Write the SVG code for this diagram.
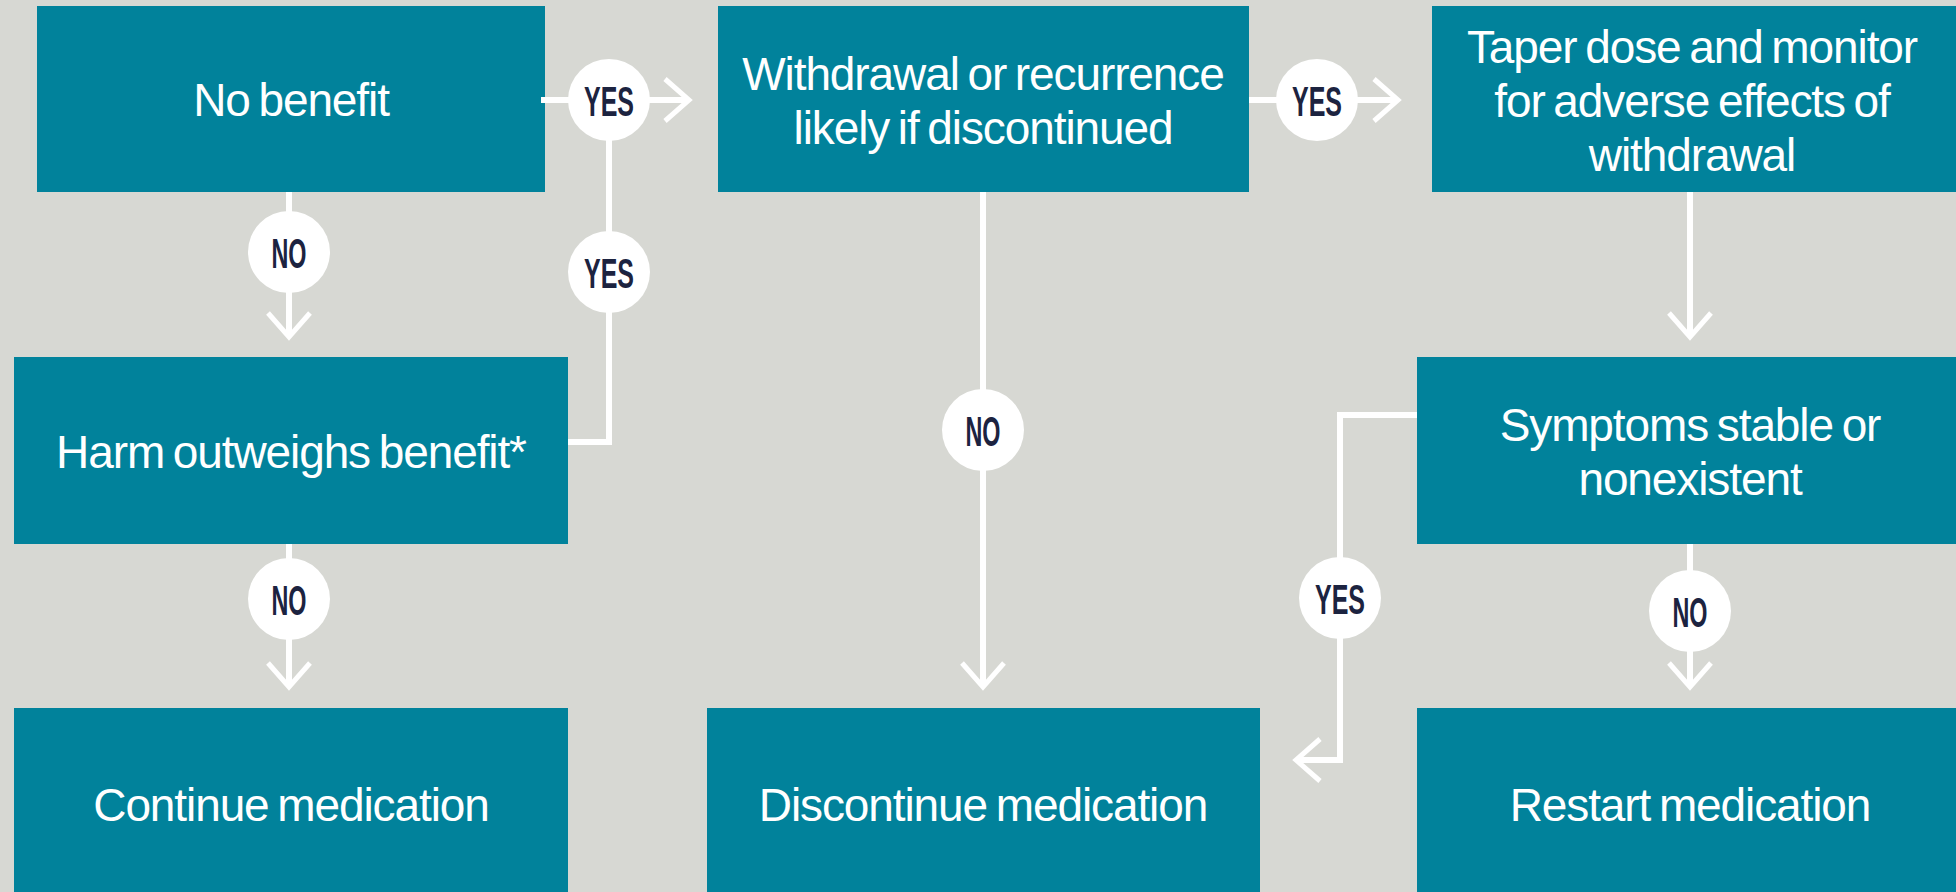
<svg xmlns="http://www.w3.org/2000/svg" width="1956" height="892" viewBox="0 0 1956 892">
<style>
.box{fill:#01829b}
.bt{font-family:"Liberation Sans",Arial,sans-serif;font-size:46px;fill:#ffffff;text-anchor:middle;letter-spacing:-1.1px;word-spacing:-3px}
.ln{fill:none;stroke:#ffffff;stroke-width:6}
.lab{fill:#ffffff}
.lt{font-family:"Liberation Sans",Arial,sans-serif;font-size:43px;font-weight:bold;fill:#1c2340;text-anchor:middle}
</style>
<defs>
<marker id="arr" markerUnits="userSpaceOnUse" viewBox="-32 -28 40 56" refX="0" refY="0" markerWidth="40" markerHeight="56" orient="auto" overflow="visible">
<path d="M-24,-21 L0,0 L-24,21" fill="none" stroke="#ffffff" stroke-width="5"/>
</marker>
</defs>
<rect x="0" y="0" width="1956" height="892" fill="#d7d8d3"/>
<g id="n1"><rect class="box" x="37" y="6" width="508" height="186"/><text class="bt" x="291" y="116">No benefit</text></g>
<g id="n2"><rect class="box" x="718" y="6" width="531" height="186"/><text class="bt" x="983" y="90">Withdrawal or recurrence</text><text class="bt" x="983" y="144">likely if discontinued</text></g>
<g id="n3"><rect class="box" x="1432" y="6" width="524" height="186"/><text class="bt" x="1692" y="63">Taper dose and monitor</text><text class="bt" x="1692" y="117">for adverse effects of</text><text class="bt" x="1692" y="171">withdrawal</text></g>
<g id="n4"><rect class="box" x="14" y="357" width="554" height="187"/><text class="bt" x="291" y="468">Harm outweighs benefit*</text></g>
<g id="n5"><rect class="box" x="1417" y="357" width="539" height="187"/><text class="bt" x="1690" y="441">Symptoms stable or</text><text class="bt" x="1690" y="495">nonexistent</text></g>
<g id="n6"><rect class="box" x="14" y="708" width="554" height="184"/><text class="bt" x="291" y="821">Continue medication</text></g>
<g id="n7"><rect class="box" x="707" y="708" width="553" height="184"/><text class="bt" x="983" y="821">Discontinue medication</text></g>
<g id="n8"><rect class="box" x="1417" y="708" width="539" height="184"/><text class="bt" x="1690" y="821">Restart medication</text></g>
<g id="connectors">
<path class="ln" d="M541,100 H689" marker-end="url(#arr)"/>
<path class="ln" d="M568,442 H609 V100"/>
<path class="ln" d="M1249,100 H1398" marker-end="url(#arr)"/>
<path class="ln" d="M289,192 V337" marker-end="url(#arr)"/>
<path class="ln" d="M289,544 V687" marker-end="url(#arr)"/>
<path class="ln" d="M983,192 V687" marker-end="url(#arr)"/>
<path class="ln" d="M1690,192 V337" marker-end="url(#arr)"/>
<path class="ln" d="M1690,544 V687" marker-end="url(#arr)"/>
<path class="ln" d="M1417,415 H1340 V760 H1296" marker-end="url(#arr)"/>
</g>
<g id="labels">
<g id="l1"><circle class="lab" cx="609" cy="100" r="41"/><text class="lt" x="609" y="116" textLength="50" lengthAdjust="spacingAndGlyphs">YES</text></g>
<g id="l2"><circle class="lab" cx="609" cy="272" r="41"/><text class="lt" x="609" y="288" textLength="50" lengthAdjust="spacingAndGlyphs">YES</text></g>
<g id="l3"><circle class="lab" cx="1317" cy="100" r="41"/><text class="lt" x="1317" y="116" textLength="50" lengthAdjust="spacingAndGlyphs">YES</text></g>
<g id="l4"><circle class="lab" cx="289" cy="252" r="41"/><text class="lt" x="289" y="268" textLength="35" lengthAdjust="spacingAndGlyphs">NO</text></g>
<g id="l5"><circle class="lab" cx="289" cy="599" r="41"/><text class="lt" x="289" y="615" textLength="35" lengthAdjust="spacingAndGlyphs">NO</text></g>
<g id="l6"><circle class="lab" cx="983" cy="430" r="41"/><text class="lt" x="983" y="446" textLength="35" lengthAdjust="spacingAndGlyphs">NO</text></g>
<g id="l7"><circle class="lab" cx="1340" cy="598" r="41"/><text class="lt" x="1340" y="614" textLength="50" lengthAdjust="spacingAndGlyphs">YES</text></g>
<g id="l8"><circle class="lab" cx="1690" cy="611" r="41"/><text class="lt" x="1690" y="627" textLength="35" lengthAdjust="spacingAndGlyphs">NO</text></g>
</g>
</svg>
